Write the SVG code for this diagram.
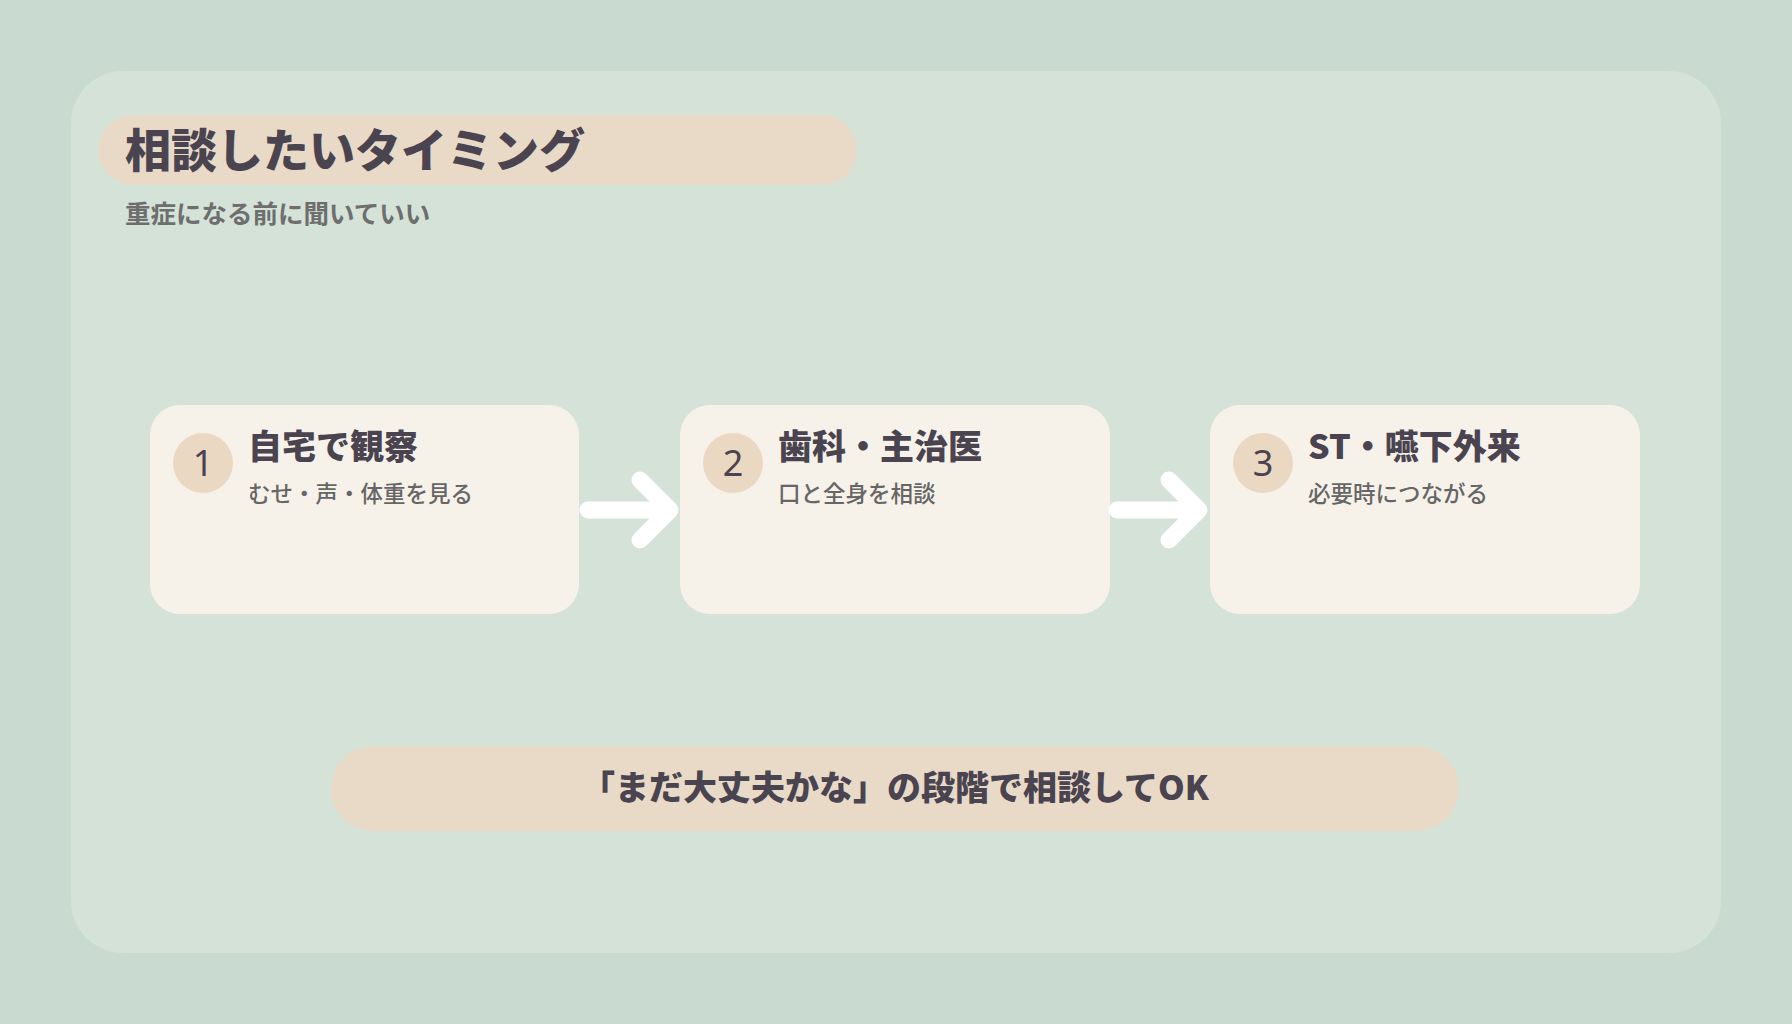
<svg xmlns="http://www.w3.org/2000/svg" width="1792" height="1024" viewBox="0 0 1792 1024">
<style>
text{font-family:"Noto Sans CJK JP","Noto Sans",sans-serif;fill:#4a4450}
.t{font-weight:900;font-size:34px}
.s{font-size:22.5px;fill:#666;font-weight:500}
.n{font-size:36px;text-anchor:middle;font-family:"Noto Sans","Noto Sans CJK JP",sans-serif}
.card{fill:#f6f2e9}
.circ{fill:#ead8c3}
.arr{fill:none;stroke:#fff;stroke-width:17;stroke-linecap:round;stroke-linejoin:round}
</style>
<rect width="1792" height="1024" fill="#c9dbd1"/>
<rect x="71" y="71" width="1650" height="882" rx="52" fill="#d4e2d8"/>
<g id="title">
<rect x="98" y="115" width="759" height="70" rx="35" fill="#e8dac7"/>
<text x="125" y="167" font-size="46" font-weight="900">相談したいタイミング</text>
<text x="125" y="223" class="s" font-size="25.5" style="font-size:25.5px;font-weight:700;fill:#6e6e6e">重症になる前に聞いていい</text>
</g>
<g id="node1">
<rect class="card" x="150" y="405" width="429" height="209" rx="30"/>
<circle class="circ" cx="203" cy="463" r="30"/>
<text class="n" x="203" y="476">1</text>
<text class="t" x="248" y="459">自宅で観察</text>
<text class="s" x="248" y="502">むせ・声・体重を見る</text>
</g>
<g id="node2">
<rect class="card" x="680" y="405" width="430" height="209" rx="30"/>
<circle class="circ" cx="733" cy="463" r="30"/>
<text class="n" x="733" y="476">2</text>
<text class="t" x="778" y="459">歯科・主治医</text>
<text class="s" x="778" y="502">口と全身を相談</text>
</g>
<g id="node3">
<rect class="card" x="1210" y="405" width="430" height="209" rx="30"/>
<circle class="circ" cx="1263" cy="463" r="30"/>
<text class="n" x="1263" y="476">3</text>
<text class="t" x="1308" y="459">ST・嚥下外来</text>
<text class="s" x="1308" y="502">必要時につながる</text>
</g>
<g id="connectors">
<path class="arr" d="M588 510H668M640 480L670 510L640 540"/>
<path class="arr" d="M1117 510H1197M1169 480L1199 510L1169 540"/>
</g>
<g id="note">
<rect x="331" y="746" width="1128" height="85" rx="42" fill="#e8dac7"/>
<text x="895" y="800" class="t" text-anchor="middle">「まだ大丈夫かな」の段階で相談してOK</text>
</g>
</svg>
